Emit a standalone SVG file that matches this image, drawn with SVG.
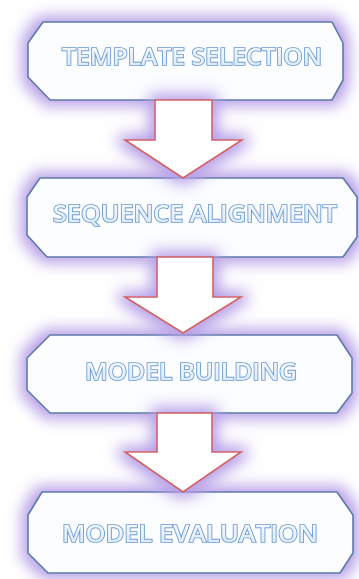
<svg xmlns="http://www.w3.org/2000/svg" width="359" height="579" viewBox="0 0 359 579">
  <defs>
    <!-- soft violet halo around every shape -->
    <filter id="glow" x="-30%" y="-50%" width="160%" height="200%">
      <feMorphology in="SourceAlpha" operator="dilate" radius="5" result="grow"/>
      <feGaussianBlur in="grow" stdDeviation="7.5" result="soft"/>
      <feFlood flood-color="#b49ce6" flood-opacity="1"/>
      <feComposite in2="soft" operator="in" result="halo"/>
      <feMerge>
        <feMergeNode in="halo"/>
        <feMergeNode in="SourceGraphic"/>
      </feMerge>
    </filter>
    <linearGradient id="txt" x1="0" y1="0" x2="0" y2="1">
      <stop offset="0" stop-color="#ffffff"/>
      <stop offset="1" stop-color="#d6e6fb"/>
    </linearGradient>
  </defs>
  <style>
    .box { fill: #fbfdff; stroke: #5b7aa6; stroke-width: 1.6; stroke-linejoin: round; }
    .arrow { fill: #ffffff; stroke: #d2625f; stroke-width: 1.6; stroke-linejoin: miter; }
    .label { font-family: "Open Sans", "Liberation Sans", sans-serif; font-weight: 600; font-size: 24px;
             fill: url(#txt); stroke: #6898d0; stroke-width: 1.7; paint-order: stroke; }
  </style>
  <rect width="359" height="579" fill="#ffffff"/>

  <g id="template-selection" filter="url(#glow)">
    <polygon class="box" points="43,22 332,22 343,43 343,80 332,100 50,100 28,77 28,43"/>
    <text class="label" x="62" y="65" textLength="260" lengthAdjust="spacingAndGlyphs">TEMPLATE SELECTION</text>
  </g>

  <g id="sequence-alignment" filter="url(#glow)">
    <polygon class="box" points="40,178 343,178 357,197 357,237 343,257 47,257 27,235 27,197"/>
    <text class="label" x="53" y="222" textLength="284" lengthAdjust="spacingAndGlyphs">SEQUENCE ALIGNMENT</text>
  </g>

  <g id="model-building" filter="url(#glow)">
    <polygon class="box" points="50,335 337,335 352,358 352,393 337,413 50,413 27,390 27,358"/>
    <text class="label" x="85" y="380" textLength="212" lengthAdjust="spacingAndGlyphs">MODEL BUILDING</text>
  </g>

  <g id="model-evaluation" filter="url(#glow)">
    <polygon class="box" points="42,492 337,492 353,515 353,553 340,573 48,573 28,553 28,515"/>
    <text class="label" x="62" y="542" textLength="256" lengthAdjust="spacingAndGlyphs">MODEL EVALUATION</text>
  </g>

  <g id="connectors" filter="url(#glow)">
    <polygon class="arrow" points="155,100 212,100 212,140 242,140 183,178 125,140 155,140"/>
    <polygon class="arrow" points="157,257 213,257 213,297 241,297 183,333 125,297 157,297"/>
    <polygon class="arrow" points="157,413 212,413 212,452 241,452 183,492 125,452 157,452"/>
  </g>
</svg>
